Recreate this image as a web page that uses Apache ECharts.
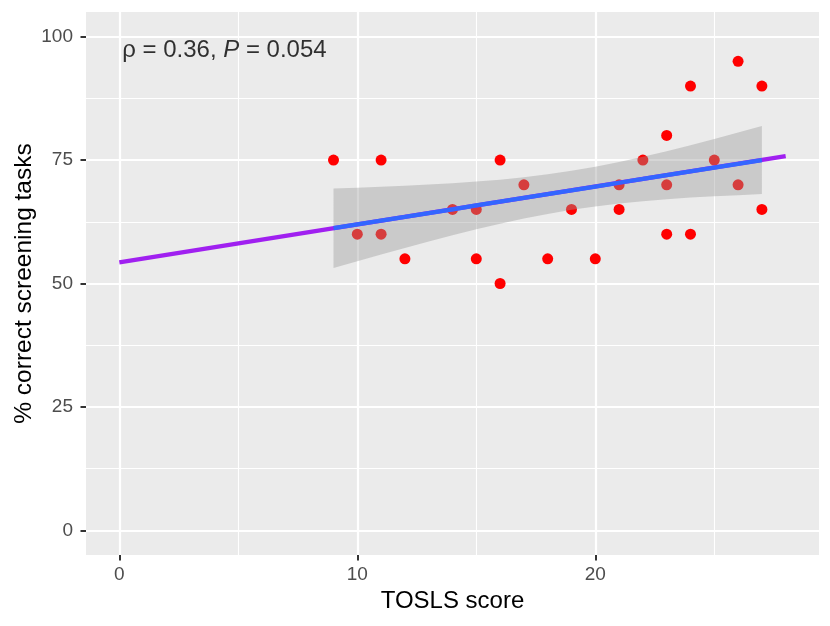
<!DOCTYPE html>
<html>
<head>
<meta charset="utf-8">
<script src="https://cdn.jsdelivr.net/npm/echarts@6/dist/echarts.min.js"></script>
<style>
  html, body { margin: 0; padding: 0; background: #fff; }
  #chart { width: 830px; height: 626px; }
</style>
</head>
<body>
<div id="chart"></div>
<script>
// scores and % correct, one per participant
var toslsScore = [9, 10, 11, 11, 12, 14, 15, 15, 16, 16, 17, 18, 19, 20, 21, 21, 22, 23, 23, 23, 24, 24, 25, 26, 26, 27, 27];
var pctCorrect = [75, 60, 75, 60, 55, 65, 65, 55, 75, 50, 70, 55, 65, 55, 70, 65, 75, 80, 70, 60, 90, 60, 75, 95, 70, 90, 65];

// fitted line and its confidence band
var fitX    = [9, 10, 11, 12, 13, 14, 15, 16, 17, 18, 19, 20, 21, 22, 23, 24, 25, 26, 27];
var fitY    = [61.2, 61.97, 62.74, 63.5, 64.27, 65.04, 65.81, 66.57, 67.34, 68.11, 68.87, 69.64, 70.41, 71.17, 71.94, 72.71, 73.48, 74.24, 75.01];
var bandLow = [53.15, 54.53, 55.88, 57.2, 58.51, 59.77, 60.97, 62.1, 63.16, 64.1, 64.92, 65.62, 66.21, 66.68, 67.07, 67.4, 67.68, 67.9, 68.11];
var bandHigh = [69.25, 69.41, 69.6, 69.8, 70.03, 70.31, 70.65, 71.04, 71.52, 72.12, 72.82, 73.66, 74.61, 75.66, 76.81, 78.02, 79.28, 80.58, 81.91];

// extended trend line
var trendX = [0, 28];
var trendY = [54.3, 75.8];

// axis ticks
var xMajor = [0, 10, 20];
var xMinor = [5, 15, 25];
var yMajor = [0, 25, 50, 75, 100];
var yMinor = [12.5, 37.5, 62.5, 87.5];

var statText = { x: 0.12, y: 97.3 };

var FONT = "'Liberation Sans', Arial, Helvetica, sans-serif";

function pairs(xs, ys) {
	var out = [];
	for (var i = 0; i < xs.length; i++) out.push([xs[i], ys[i]]);
	return out;
}

function gridLines() {
	var d = [];
	xMinor.forEach(function (v) { d.push({ xAxis: v, lineStyle: { width: 1.1 } }); });
	yMinor.forEach(function (v) { d.push({ yAxis: v, lineStyle: { width: 1.1 } }); });
	xMajor.forEach(function (v) { d.push({ xAxis: v, lineStyle: { width: 2.2 } }); });
	yMajor.forEach(function (v) { d.push({ yAxis: v, lineStyle: { width: 2.2 } }); });
	return d;
}

var chart = echarts.init(document.getElementById("chart"), null, { renderer: "canvas" });

var option = {
	animation: false,
	backgroundColor: "#ffffff",
	textStyle: { fontFamily: FONT },
	grid: {
		left: 86, right: 11, top: 12, bottom: 71,
		outerBoundsMode: "none", containLabel: false,
		show: true, backgroundColor: "#EBEBEB", borderWidth: 0
	},
	xAxis: {
		type: "value", min: -1.4, max: 29.4,
		name: "TOSLS score", nameLocation: "middle", nameGap: 34, nameMoveOverlap: false,
		nameTextStyle: { fontSize: 24, color: "#000", fontFamily: FONT },
		axisLine: { show: true, onZero: false, lineStyle: { color: "rgba(0,0,0,0)" } },
		axisTick: { show: true, customValues: xMajor, length: 5.5, lineStyle: { color: "#333333", width: 2 } },
		axisLabel: { customValues: xMajor, fontSize: 19, color: "#4D4D4D", margin: 10, fontFamily: FONT },
		splitLine: { show: false }
	},
	yAxis: {
		type: "value", min: -5, max: 105,
		name: "% correct screening tasks", nameLocation: "middle", nameGap: 49, nameMoveOverlap: false,
		nameTextStyle: { fontSize: 24.5, color: "#000", fontFamily: FONT },
		axisLine: { show: true, onZero: false, lineStyle: { color: "rgba(0,0,0,0)" } },
		axisTick: { show: true, customValues: yMajor, length: 5.5, lineStyle: { color: "#333333", width: 2 } },
		axisLabel: { customValues: yMajor, fontSize: 19, color: "#4D4D4D", margin: 13, fontFamily: FONT },
		splitLine: { show: false }
	},
	series: [
		{
			// panel grid lines
			type: "line", data: [], z: 1, silent: true,
			markLine: {
				z: 1, silent: true, symbol: "none", animation: false,
				label: { show: false },
				lineStyle: { color: "#FFFFFF", type: "solid" },
				data: gridLines()
			}
		},
		{
			type: "scatter", z: 2,
			data: pairs(toslsScore, pctCorrect),
			symbolSize: 11,
			itemStyle: { color: "#FF0000", opacity: 1 }
		},
		{
			// confidence band, drawn over the points like ggplot does
			type: "custom", z: 3, silent: true,
			data: [[fitX[0], fitY[0]]],
			renderItem: function (params, api) {
				var pts = [];
				for (var i = 0; i < fitX.length; i++) pts.push(api.coord([fitX[i], bandHigh[i]]));
				for (var j = fitX.length - 1; j >= 0; j--) pts.push(api.coord([fitX[j], bandLow[j]]));
				return {
					type: "polygon",
					shape: { points: pts },
					style: { fill: "rgba(153,153,153,0.4)" }
				};
			}
		},
		{
			type: "line", z: 4, silent: true,
			data: pairs(trendX, trendY),
			symbol: "none",
			lineStyle: { color: "#A020F0", width: 4.3, cap: "butt" }
		},
		{
			type: "line", z: 5, silent: true,
			data: pairs(fitX, fitY),
			symbol: "none",
			lineStyle: { color: "#3366FF", width: 4.3, cap: "butt" }
		},
		{
			type: "scatter", z: 6, silent: true,
			data: [[statText.x, statText.y]],
			symbolSize: 0,
			label: {
				show: true, position: "right", distance: 0,
				formatter: "{a|\u03C1 = 0.36, }{i|P}{a| = 0.054}",
				rich: {
					a: { fontSize: 24, color: "#000", fontFamily: FONT },
					i: { fontSize: 24, color: "#000", fontStyle: "italic", fontFamily: FONT }
				}
			}
		}
	]
};

chart.setOption(option);
</script>
</body>
</html>
